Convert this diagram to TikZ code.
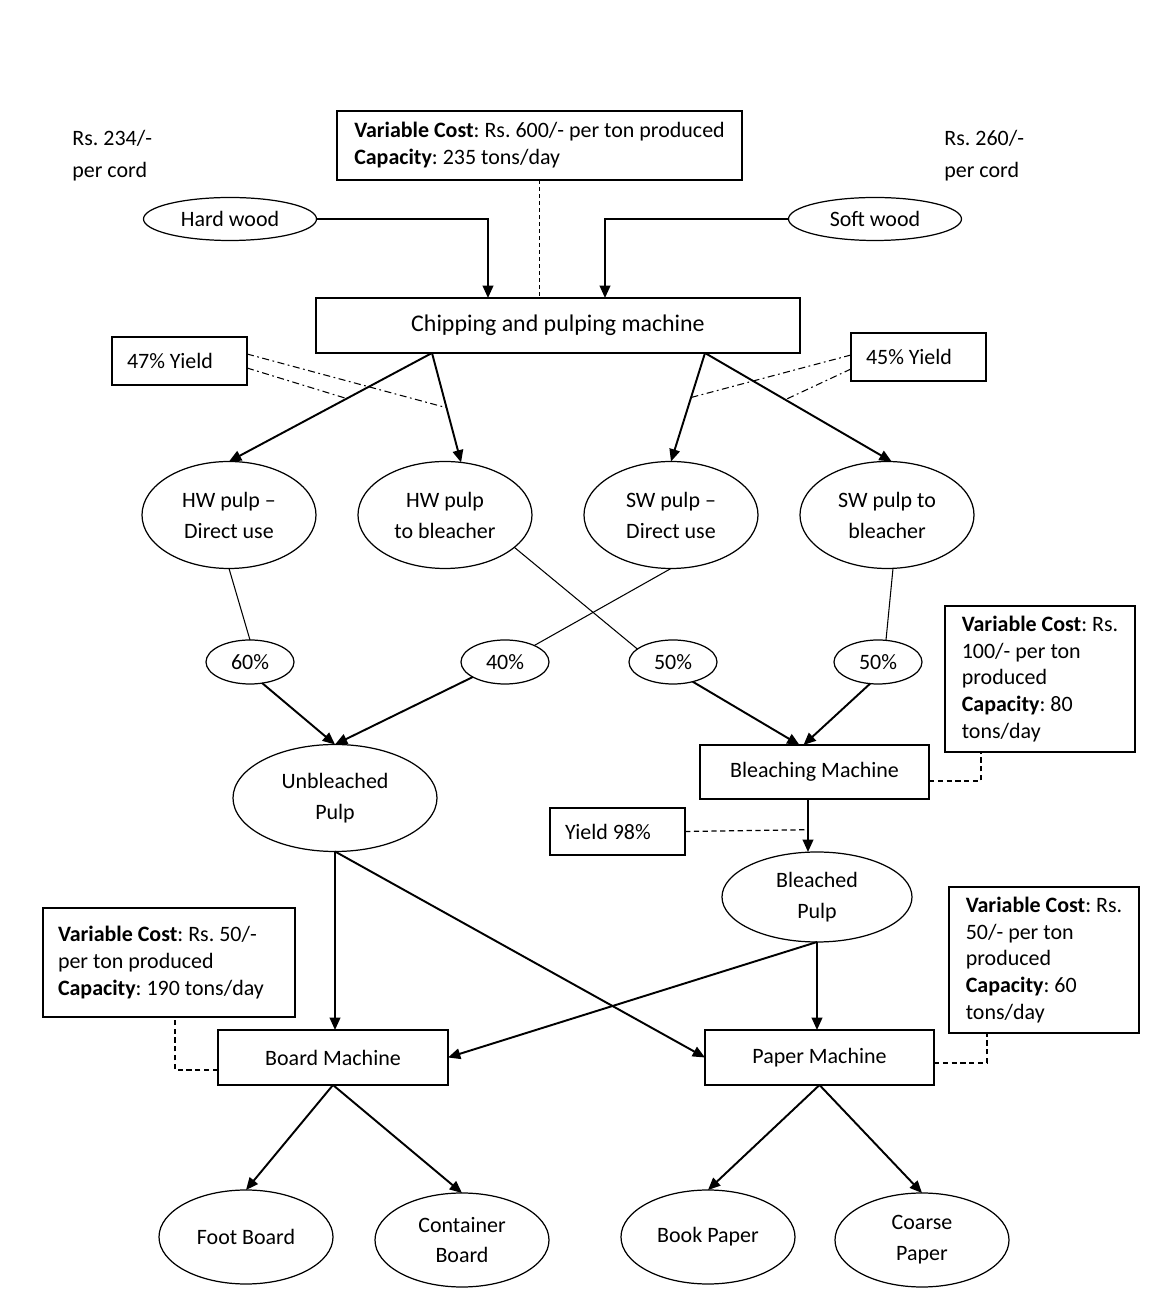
\documentclass[tikz,border=0pt]{standalone}
\usepackage{fontspec}
\setmainfont{Carlito}
\usetikzlibrary{shapes.geometric, arrows.meta}
\frenchspacing

\begin{document}
\begin{tikzpicture}[
    font=\fontsize{12.5}{15.3}\selectfont,
    box/.style={draw, rectangle, line width=0.7pt, inner sep=0pt, outer sep=0pt, align=left},
    yieldbox/.style={box, text width=2.1cm, inner xsep=0.3cm, align=flush left, minimum height=0.96cm},
    price/.style={align=left, anchor=west, inner sep=0pt, font=\fontsize{12.5}{18.1}\selectfont},
    oval/.style={draw, ellipse, line width=0.7pt, inner sep=0pt, outer sep=0pt, align=center, font=\fontsize{12.5}{17.6}\selectfont},
    pulp/.style={oval, minimum width=3.48cm, minimum height=2.14cm},
    share/.style={oval, minimum width=1.76cm, minimum height=0.88cm},
    product/.style={oval, minimum width=3.48cm, minimum height=1.88cm},
    flow/.style={-{Triangle[length=7pt, width=6pt]}, line width=1.1pt},
    link/.style={line width=0.6pt},
    note/.style={line width=0.7pt, dash pattern=on 3pt off 2pt},
    yieldline/.style={line width=0.6pt, dash pattern=on 4pt off 2pt on 1pt off 2pt}
]

    \useasboundingbox (0,0) rectangle (23.42,26);

    % Wood prices
    \node[price] (hwprice) at (1.44,22.88) {Rs. 234/-\\per cord};
    \node[price] (swprice) at (18.88,22.88) {Rs. 260/-\\per cord};

    % Chipping and pulping machine with its cost box
    \node[box, minimum width=8.1cm, minimum height=1.38cm] (chipcost) at (10.79,23.09) {
        \textbf{Variable Cost}: Rs. 600/- per ton produced\\\textbf{Capacity}: 235 tons/day
    };
    \node[oval, minimum width=3.46cm, minimum height=0.86cm] (hard) at (4.6,21.62) {Hard wood};
    \node[oval, minimum width=3.46cm, minimum height=0.86cm] (soft) at (17.5,21.62) {Soft wood};
    \node[box, minimum width=9.68cm, minimum height=1.1cm, font=\fontsize{13.6}{16}\selectfont] (chip) at (11.16,19.49) {Chipping and pulping machine};
    \draw[note, dash pattern=on 2pt off 2pt] (chipcost.south) -- (chipcost.south |- chip.north);
    \draw[flow] (hard.east) -| ([xshift=-1.4cm]chip.north);
    \draw[flow] (soft.west) -| ([xshift=0.94cm]chip.north);

    % Pulp streams
    \node[pulp] (hwd) at (4.58,15.7) {HW pulp –\\Direct use};
    \node[pulp] (hwb) at (8.9,15.7) {HW pulp\\to bleacher};
    \node[pulp] (swd) at (13.42,15.7) {SW pulp –\\Direct use};
    \node[pulp] (swb) at (17.74,15.7) {SW pulp to\\bleacher};
    \draw[flow] ([xshift=-2.52cm]chip.south) -- coordinate[pos=0.42] (hwdmark) (hwd.north);
    \draw[flow] ([xshift=-2.52cm]chip.south) -- coordinate[pos=0.5] (hwbmark) (hwb.73);
    \draw[flow] ([xshift=2.94cm]chip.south) -- coordinate[pos=0.41] (swdmark) (swd.north);
    \draw[flow] ([xshift=2.94cm]chip.south) -- coordinate[pos=0.43] (swbmark) (swb.85);

    % Yield boxes
    \node[yieldbox] (hwyield) at (3.59,18.78) {47\% Yield};
    \node[yieldbox] (swyield) at (18.37,18.86) {45\% Yield};
    \draw[yieldline] ([yshift=0.14cm]hwyield.east) -- (hwbmark);
    \draw[yieldline] ([yshift=-0.14cm]hwyield.east) -- (hwdmark);
    \draw[yieldline] ([yshift=0.04cm]swyield.west) -- (swdmark);
    \draw[yieldline] ([yshift=-0.24cm]swyield.west) -- (swbmark);

    % Shares
    \node[share] (s60) at (5.0,12.76) {60\%};
    \node[share] (s40) at (10.1,12.76) {40\%};
    \node[share] (s50a) at (13.46,12.76) {50\%};
    \node[share] (s50b) at (17.56,12.76) {50\%};
    \draw[link] (hwd.south) -- (s60.north);
    \draw[link] (swd.south) -- (s40);
    \draw[link] (hwb.-25) -- (s50a.160);
    \draw[link] ([xshift=0.12cm]swb.south) -- ([xshift=0.16cm]s50b.north);

    % Unbleached pulp and bleaching
    \node[oval, minimum width=4.08cm, minimum height=2.14cm] (unb) at (6.7,10.04) {Unbleached\\Pulp};
    \node[box, minimum width=4.58cm, minimum height=1.08cm] (bleach) at (16.29,10.56) {Bleaching Machine};
    \draw[flow] (s60.-60) -- (unb.north);
    \draw[flow] (s40.205) -- (unb.north);
    \draw[flow] (s50a.-45) -- ([xshift=-0.3cm]bleach.north);
    \draw[flow] (s50b.-110) -- ([xshift=-0.22cm]bleach.north);

    \node[box, minimum width=3.8cm, minimum height=2.92cm] (bleachcost) at (20.8,12.42) {
        \textbf{Variable Cost}: Rs.\\100/- per ton\\produced\\\textbf{Capacity}: 80\\tons/day
    };
    \draw[note] ([yshift=-0.18cm]bleach.east) -| ([xshift=-1.18cm]bleachcost.south);

    % Bleached pulp
    \node[oval, minimum width=3.8cm, minimum height=1.8cm] (bp) at (16.34,8.06) {Bleached\\Pulp};
    \draw[flow] ([xshift=-0.13cm]bleach.south) -- coordinate[pos=0.58] (bleachmark) ([xshift=-0.13cm]bleach.south |- bp.north);
    \node[yieldbox, minimum height=0.94cm] (bleachyield) at (12.35,9.37) {Yield 98\%};
    \draw[note] (bleachyield.east) -- (bleachmark);

    % Board and paper machines
    \node[box, minimum width=4.6cm, minimum height=1.1cm, align=center] (board) at (6.66,4.85) {Board Machine};
    \node[box, minimum width=4.58cm, minimum height=1.1cm, align=center] (paper) at (16.39,4.85) {Paper Machine};
    \draw[flow] (unb.south) -- (unb.south |- board.north);
    \draw[flow] (unb.south) -- (paper.west);
    \draw[flow] (bp.south) -- (bp.south |- paper.north);
    \draw[flow] (bp.south) -- (board.east);

    \node[box, text width=4.44cm, inner xsep=0.3cm, align=flush left, minimum height=2.18cm] (boardcost) at (3.38,6.75) {
        \textbf{Variable Cost}: Rs. 50/-\\per ton produced\\\textbf{Capacity}: 190 tons/day
    };
    \draw[note] ([yshift=-0.25cm]board.west) -| ([xshift=0.12cm]boardcost.south);
    \node[box, minimum width=3.8cm, minimum height=2.92cm] (papercost) at (20.88,6.8) {
        \textbf{Variable Cost}: Rs.\\50/- per ton\\produced\\\textbf{Capacity}: 60\\tons/day
    };
    \draw[note] ([yshift=-0.11cm]paper.east) -| ([xshift=-1.14cm]papercost.south);

    % Products
    \node[product] (foot) at (4.92,1.26) {Foot Board};
    \node[product] (container) at (9.24,1.2) {Container\\Board};
    \node[product] (book) at (14.16,1.26) {Book Paper};
    \node[product] (coarse) at (18.44,1.2) {Coarse\\Paper};
    \draw[flow] (board.south) -- (foot.north);
    \draw[flow] (board.south) -- (container.north);
    \draw[flow] (paper.south) -- (book.north);
    \draw[flow] (paper.south) -- (coarse.north);

\end{tikzpicture}
\end{document}
